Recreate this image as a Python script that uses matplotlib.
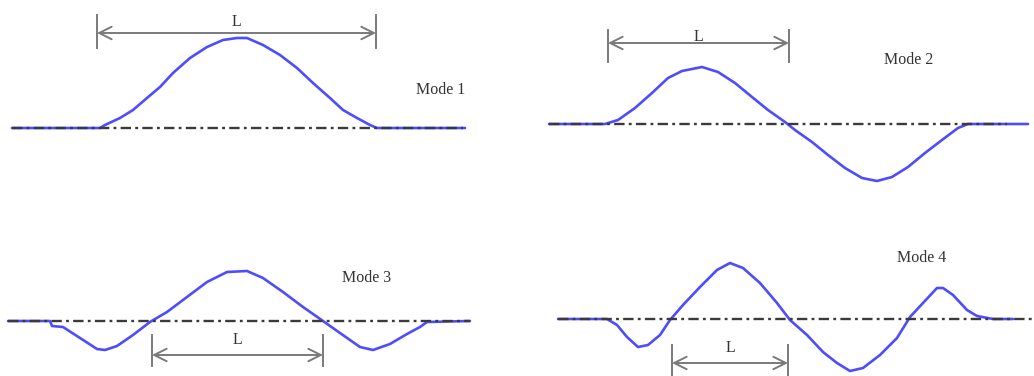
import matplotlib
matplotlib.use("Agg")
import matplotlib.pyplot as plt

# Mode shapes: horizontal station (px) and deflection above the axis line (px, up positive)
mode1_x = [12, 100, 105, 120, 133, 147, 160, 173, 190, 207, 223, 237, 247, 263, 280, 297, 313, 330, 343, 357, 370, 377, 465]
mode1_d = [0, 0, 3, 10, 18, 30, 41, 55, 70, 81, 88, 90, 90, 83, 73, 60, 45, 30, 18, 10, 3, 0, 0]

mode2_x = [549, 605, 618, 635, 652, 668, 682, 702, 718, 735, 752, 768, 785, 795, 812, 828, 845, 862, 877, 892, 908, 925, 942, 958, 968, 1028]
mode2_d = [0, 0, 4, 16, 31, 46, 53, 57, 52, 41, 27, 14, 2, -6, -18, -31, -44, -54, -57, -53, -43, -29, -16, -4, 0, 0]

mode3_x = [8, 50, 52, 63, 80, 97, 105, 117, 133, 150, 167, 187, 207, 227, 247, 263, 283, 303, 323, 340, 360, 373, 390, 407, 420, 427, 470]
mode3_d = [0, 0, -5, -6, -17, -28, -29, -25, -14, -1, 9, 24, 39, 49, 50, 43, 29, 14, 0, -12, -26, -29, -23, -13, -6, -1, 0]

mode4_x = [558, 607, 617, 627, 638, 648, 660, 670, 683, 700, 717, 730, 743, 760, 777, 790, 807, 823, 837, 850, 863, 880, 897, 910, 923, 937, 943, 953, 967, 977, 993, 1013]
mode4_d = [0, 0, -6, -18, -28, -26, -16, -1, 14, 32, 49, 56, 51, 36, 16, -1, -16, -33, -44, -52, -49, -36, -19, 2, 16, 31, 31, 24, 9, 3, 0, 0]

modes = [
    # (x, deflection, axis level, axis span, dimension x0, x1, dimension y, tick y0, tick y1, label y, title, title x, title y)
    (mode1_x, mode1_d, 128, (12, 463), 97, 376, 33, 15, 48, 22, "Mode 1", 441, 90),
    (mode2_x, mode2_d, 124, (549, 1007), 608, 789, 43, 30, 62, 37, "Mode 2", 909, 60),
    (mode3_x, mode3_d, 321, (8, 470), 152, 323, 355, 335, 366, 340, "Mode 3", 367, 278),
    (mode4_x, mode4_d, 319, (558, 1034), 672, 788, 363, 345, 378, 348, "Mode 4", 922, 258),
]

fig = plt.figure(figsize=(10.34, 3.76), dpi=100)
ax = fig.add_axes([0, 0, 1, 1])
ax.set_xlim(0, 1034)
ax.set_ylim(376, 0)
ax.axis("off")

blue = "#4d4dff"
grey = "#7a7a7a"
serif = ["Liberation Serif", "DejaVu Serif"]

for xs, ds, base, span, dx0, dx1, dy, ty0, ty1, ly, title, tx, tyy in modes:
    # mode shape
    ax.plot(xs, [base - d for d in ds], color=blue, lw=1.9, zorder=2,
            solid_joinstyle="round", solid_capstyle="round")
    # neutral axis, drawn over the flat ends of the shape
    ax.plot(span, [base, base], color="#3a3a3a", lw=1.7,
            linestyle=(0, (4.4, 1.8, 1.2, 1.8)), zorder=3)
    # dimension line with end ticks
    for xx in (dx0, dx1):
        ax.plot([xx, xx], [ty0, ty1], color=grey, lw=1.4)
    ax.annotate("", xy=(dx0, dy), xytext=(dx1, dy),
                arrowprops=dict(arrowstyle="<->,head_length=0.9,head_width=0.45",
                                color=grey, lw=1.4, shrinkA=0, shrinkB=0))
    ax.text((dx0 + dx1) / 2, ly, "L", ha="center", va="center",
            fontsize=11.5, family=serif, color="#333333")
    ax.text(tx, tyy, title, ha="center", va="center",
            fontsize=11.5, family=serif, color="#333333")

fig.savefig("out.png", dpi=100)
